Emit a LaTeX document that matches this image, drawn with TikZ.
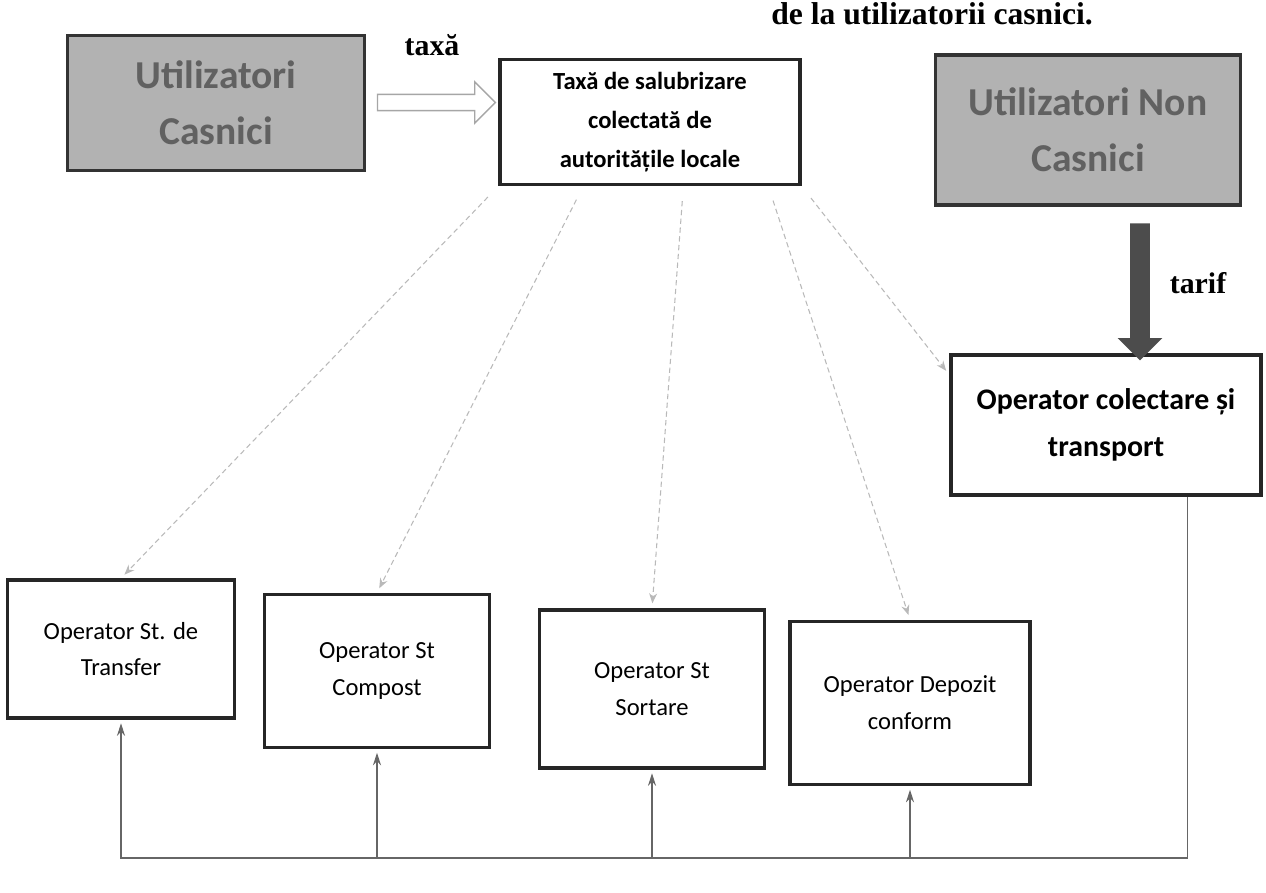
\documentclass[tikz,border=0pt]{standalone}
\usepackage{fontspec}
\setmainfont{Carlito}
\newfontfamily\timesfont{Liberation Serif}
\usetikzlibrary{shapes.arrows,arrows.meta,calc}

\begin{document}
\begin{tikzpicture}[x=0.02cm, y=-0.02cm,
    usr/.style={draw=black!80, line width=2.2pt, fill=black!30, text=black!62, align=center,
        font=\fontsize{22.5}{32}\selectfont\bfseries},
    top/.style={draw=black!85, line width=2pt, fill=white, align=center,
        font=\fontsize{14}{22}\selectfont\bfseries},
    op/.style={draw=black!85, line width=2pt, fill=white, align=center,
        font=\fontsize{14}{21}\selectfont},
    pay/.style={-{Stealth[length=0.2cm,width=0.16cm]}, gray!55, densely dashed, line width=0.6pt,
        shorten <=0.3cm, shorten >=0.1cm},
    up/.style={-{Stealth[length=0.25cm,width=0.16cm]}, gray!80!black, line width=0.6pt, shorten >=2pt}]
\useasboundingbox (0,0) rectangle (1266,892);

\node[font=\timesfont\bfseries\fontsize{18}{20}\selectfont] (title) at (932,14) {de la utilizatorii casnici.};

% payers
\node[usr, minimum width=5.94cm, minimum height=2.7cm] (uc) at (216,103) {Utilizatori\\Casnici};
\node[top, minimum width=6cm, minimum height=2.5cm] (taxa) at (650,122)
    {Taxă de salubrizare\\colectată de\\autoritățile locale};
\node[usr, minimum width=6.1cm, minimum height=3cm] (unc) at (1088,130) {Utilizatori Non\\Casnici};
\node[top, font=\fontsize{17}{27}\selectfont\bfseries, minimum width=6.2cm, minimum height=2.8cm]
    (occ) at (1106,425) {Operator colectare și\\transport};

% operators
\node[op, minimum width=4.54cm, minimum height=2.76cm] (transfer) at (121,649) {Operator St. de\\Transfer};
\node[op, minimum width=4.5cm, minimum height=3.06cm] (compost) at (377,671) {Operator St\\Compost};
\node[op, minimum width=4.5cm, minimum height=3.16cm] (sortare) at (652,689) {Operator St\\Sortare};
\node[op, minimum width=4.8cm, minimum height=3.26cm] (depozit) at (910,703) {Operator Depozit\\conform};

% block arrows
\node[single arrow, draw=gray!70, fill=white, line width=0.8pt, minimum height=2.36cm,
    single arrow head extend=0.25cm, inner xsep=0pt, inner ysep=0.15cm] (hollow)
    at ($(uc.east)!.5!(taxa.west)+(0,-10)$) {};
\node[font=\timesfont\bfseries\fontsize{17}{20}\selectfont] (taxlabel) at (432,45) {taxă};
\node[single arrow, rotate=-90, fill=black!70, minimum height=2.74cm,
    single arrow head extend=0.25cm, inner xsep=0pt, inner ysep=0.19cm] (tarifarrow) at (1140,287) {};
\node[font=\timesfont\bfseries\fontsize{17}{20}\selectfont] (tarif) at (1198,283) {tarif};

% money from the local authorities
\draw[pay] (taxa.south west) -- (transfer.north);
\draw[pay] ($(taxa.south west)!.28!(taxa.south east)$) -- (compost.north);
\draw[pay] ($(taxa.south west)!.61!(taxa.south east)$) -- (sortare.north);
\draw[pay] ($(taxa.south west)!.89!(taxa.south east)$) -- (depozit.north);
\draw[pay] (taxa.south east) -- ($(occ.north west)!.15!(occ.south west)$);

% from the collector to the stations
\coordinate (bus) at (0,858);
\coordinate (oc) at ($(occ.south west)!.76!(occ.south east)$);
\draw[up] (oc) |- (bus -| transfer.south) -- (transfer.south);
\foreach \op in {compost,sortare,depozit}
    \draw[up] (bus -| \op.south) -- (\op.south);
\end{tikzpicture}
\end{document}
